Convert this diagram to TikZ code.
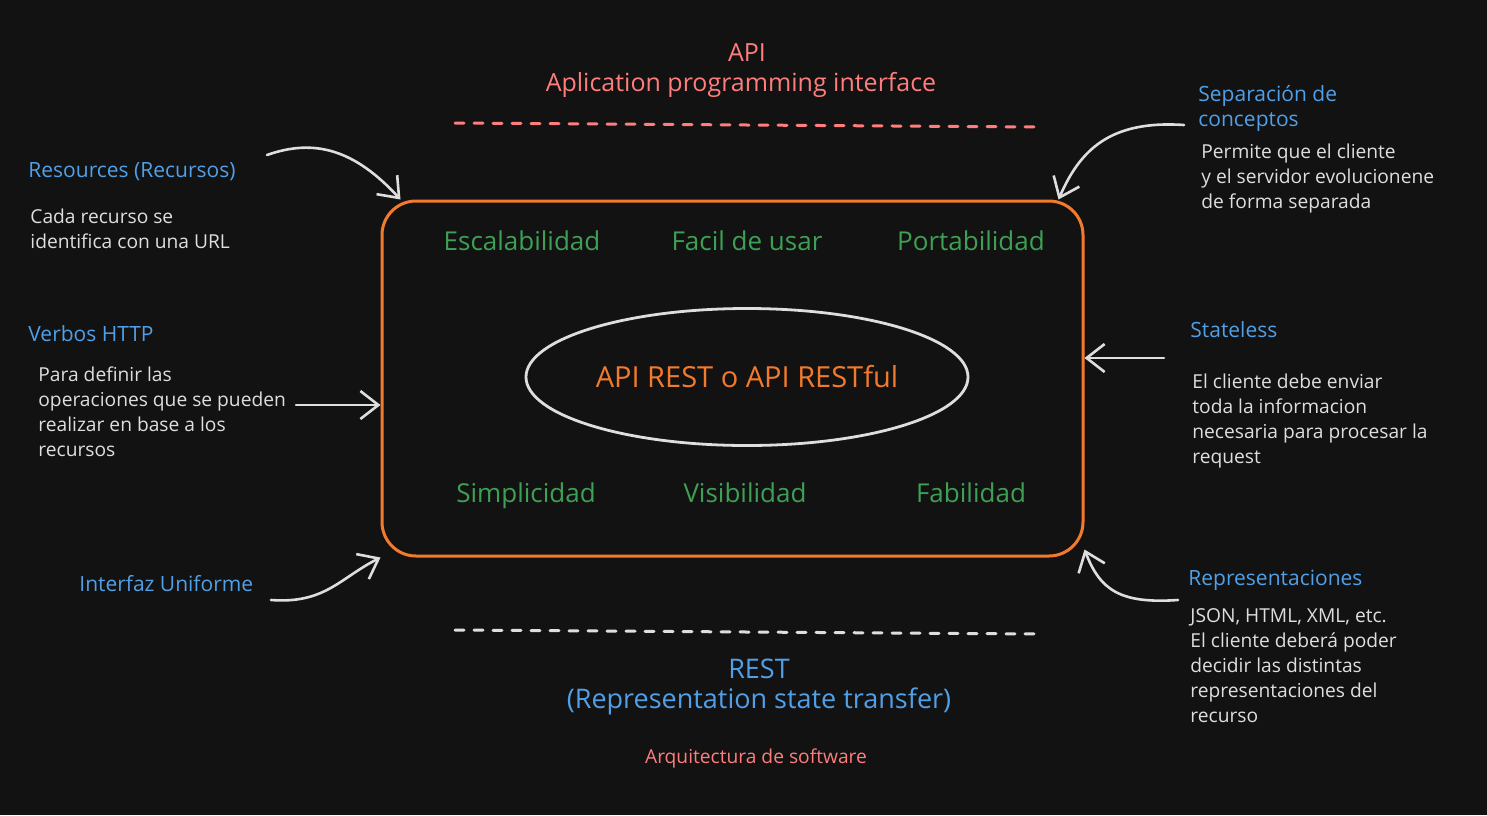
\documentclass[tikz,border=0pt]{standalone}
\definecolor{bgdark}{RGB}{18,18,18}
\definecolor{redtxt}{RGB}{255,125,125}
\definecolor{bluetxt}{RGB}{80,160,232}
\definecolor{greentxt}{RGB}{62,160,84}
\definecolor{orangebox}{RGB}{242,122,44}
\definecolor{chalk}{RGB}{222,222,222}
\usepackage{fontspec}
\setmainfont{Open Sans}
\usepackage{tikz}
\usetikzlibrary{arrows.meta,shapes.geometric}
\newcommand{\bigtxt}{\fontsize{12.5}{16}\selectfont}
\newcommand{\resttxt}{\fontsize{13.5}{16}\selectfont}
\newcommand{\coretxt}{\fontsize{14.5}{17}\selectfont}
\newcommand{\midtxt}{\fontsize{13}{15}\selectfont}
\newcommand{\headtxt}{\fontsize{10.5}{12.5}\selectfont}
\newcommand{\smalltxt}{\fontsize{9.6}{12.5}\selectfont}

\begin{document}
\begin{tikzpicture}[x=0.5pt,y=-0.5pt,
    heading/.style={text=bluetxt, font=\headtxt, inner sep=0pt, anchor=west, align=left},
    bodytext/.style={text=chalk, font=\smalltxt, inner sep=0pt, anchor=north west, align=left},
    quality/.style={text=greentxt, font=\midtxt, inner sep=0pt, anchor=base},
    sketch/.style={draw=chalk, line width=1.3pt, line cap=round, -{Straight Barb[length=9pt,width=14pt]}},
    divider/.style={line width=1.5pt, line cap=round, dash pattern=on 4.5pt off 5pt}]
    \fill[bgdark] (0,0) rectangle (1487,815);

    \node[text=redtxt, font=\bigtxt, inner sep=0pt] (apititle) at (747,53) {API};
    \node[text=redtxt, font=\bigtxt, inner sep=0pt] (apifull) at (741,85) {Aplication programming interface};
    \coordinate (apiline-l) at (455,123);
    \coordinate (apiline-r) at (1040,127);
    \draw[divider, redtxt] (apiline-l) -- (apiline-r);

    \node[draw=orangebox, line width=1.5pt, rounded corners=17pt, minimum width=350.5pt, minimum height=177.5pt, inner sep=0pt] (restbox) at (732.5,378.5) {};
    \node[ellipse, draw=chalk, line width=1.4pt, minimum width=221pt, minimum height=68.5pt, inner sep=0pt, text=orangebox, font=\coretxt] (restcore) at (747,377) {API REST o API RESTful};

    \node[quality] (escala) at (522,250) {Escalabilidad};
    \node[quality] (facil) at (747,250) {Facil de usar};
    \node[quality] (porta) at (971,250) {Portabilidad};
    \node[quality] (simple) at (526,502) {Simplicidad};
    \node[quality] (visible) at (745,502) {Visibilidad};
    \node[quality] (fiable) at (971,502) {Fabilidad};

    \coordinate (restline-l) at (455,630);
    \coordinate (restline-r) at (1040,634);
    \draw[divider, chalk] (restline-l) -- (restline-r);
    \node[text=bluetxt, font=\resttxt, inner sep=0pt] (resttitle) at (759,669) {REST};
    \node[text=bluetxt, font=\resttxt, inner sep=0pt] (restfull) at (759,701) {(Representation state transfer)};
    \node[text=redtxt, font=\smalltxt, inner sep=0pt] (arqui) at (756,758) {Arquitectura de software};

    \node[heading] (resources) at (28,172) {Resources (Recursos)};
    \node[bodytext] (resdesc) at (30,209) {Cada recurso se\\identifica con una URL};
    \node[heading] (verbos) at (28,334) {Verbos HTTP};
    \node[bodytext] (verbdesc) at (38,366) {Para definir las\\operaciones que se pueden\\realizar en base a los\\recursos};
    \node[heading] (interfaz) at (79,584) {Interfaz Uniforme};

    \node[heading, anchor=north west] (separa) at (1198,85) {Separación de\\conceptos};
    \node[bodytext] (sepdesc) at (1201,144) {Permite que el cliente\\y el servidor evolucionene\\de forma separada};
    \node[heading] (stateless) at (1190,330) {Stateless};
    \node[bodytext] (statedesc) at (1192,374) {El cliente debe enviar\\toda la informacion\\necesaria para procesar la\\request};
    \node[heading] (repres) at (1188,580) {Representaciones};
    \node[bodytext] (repdesc) at (1190,608) {JSON, HTML, XML, etc.\\El cliente deberá poder\\decidir las distintas\\representaciones del\\recurso};

    \coordinate (resarrow) at (267,155);
    \coordinate (verbarrow) at (296,405);
    \coordinate (ifarrow) at (271,600);
    \coordinate (separrow) at (1184,125);
    \coordinate (statearrow) at (1164,358);
    \coordinate (reparrow) at (1178,600);
    \draw[sketch] (resarrow) .. controls (315,138) and (355,150) .. ([xshift=10pt]restbox.north west);
    \draw[sketch] (verbarrow) -- (restbox.west |- verbarrow);
    \draw[sketch] (ifarrow) .. controls (325,604) and (340,578) .. (restbox.south west);
    \draw[sketch] (separrow) .. controls (1110,120) and (1080,150) .. ([xshift=-13pt]restbox.north east);
    \draw[sketch] (statearrow) -- (restbox.east |- statearrow);
    \draw[sketch] (reparrow) .. controls (1120,604) and (1100,590) .. ([yshift=4pt]restbox.south east);
\end{tikzpicture}
\end{document}
